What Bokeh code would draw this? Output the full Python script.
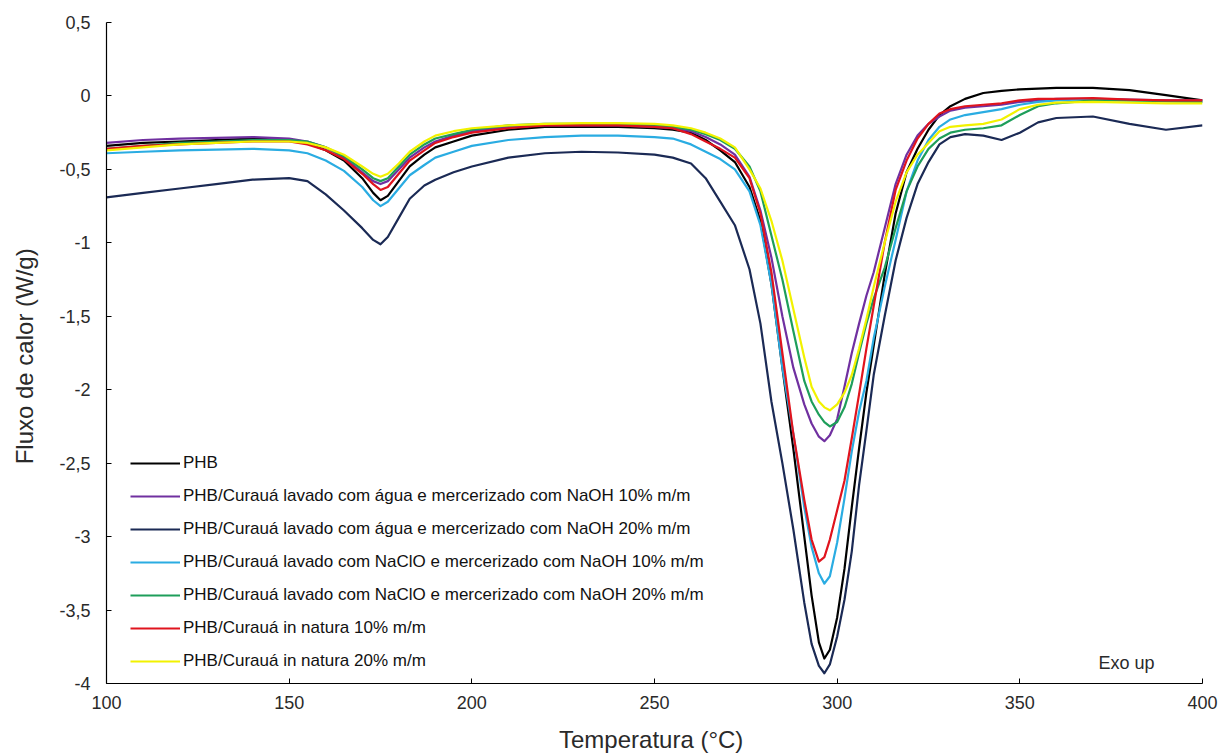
from bokeh.plotting import figure
from bokeh.models import (Range1d, FixedTicker, CustomJSTickFormatter, Legend,
                          LegendItem, Label)
from bokeh.embed import file_html
from bokeh.resources import INLINE

# ---------------- data ----------------
temperatura = [100, 110, 120, 130, 140, 150, 155, 160, 165, 170, 173, 175, 177, 180,
               183, 187, 190, 195, 200, 210, 220, 230, 240, 250, 255, 260, 264, 268,
               272, 276, 279, 282, 285, 288, 291, 293, 295, 296.5, 298, 300, 302, 304,
               306, 308, 310, 313, 316, 319, 322, 325, 328, 331, 335, 340, 345, 350,
               355, 360, 370, 380, 390, 400]

phb = [-0.34, -0.32, -0.31, -0.30, -0.29, -0.30, -0.32, -0.37, -0.44, -0.56, -0.66, -0.71,
       -0.68, -0.58, -0.48, -0.40, -0.35, -0.31, -0.27, -0.23, -0.21, -0.21, -0.21, -0.22,
       -0.23, -0.25, -0.30, -0.37, -0.45, -0.62, -0.85, -1.28, -1.85, -2.40, -3.00, -3.40,
       -3.72, -3.83, -3.77, -3.55, -3.22, -2.80, -2.40, -2.02, -1.70, -1.22, -0.80, -0.52,
       -0.36, -0.23, -0.13, -0.07, -0.02, 0.02, 0.035, 0.045, 0.05, 0.055, 0.055, 0.04,
       0.005, -0.03]

agua_naoh10 = [-0.32, -0.30, -0.29, -0.285, -0.28, -0.29, -0.31, -0.35, -0.42, -0.52, -0.58,
               -0.60, -0.58, -0.50, -0.42, -0.35, -0.31, -0.27, -0.24, -0.21, -0.20, -0.20,
               -0.20, -0.21, -0.22, -0.24, -0.28, -0.33, -0.40, -0.55, -0.78, -1.10, -1.50,
               -1.85, -2.10, -2.23, -2.32, -2.35, -2.31, -2.20, -1.98, -1.75, -1.55, -1.36,
               -1.20, -0.90, -0.60, -0.40, -0.27, -0.19, -0.14, -0.10, -0.08, -0.07, -0.06,
               -0.04, -0.03, -0.02, -0.02, -0.025, -0.03, -0.03]

agua_naoh20 = [-0.69, -0.66, -0.63, -0.60, -0.57, -0.56, -0.58, -0.67, -0.78, -0.90, -0.98,
               -1.01, -0.96, -0.83, -0.70, -0.61, -0.57, -0.52, -0.48, -0.42, -0.39, -0.38,
               -0.385, -0.40, -0.42, -0.46, -0.56, -0.72, -0.88, -1.18, -1.55, -2.08, -2.50,
               -2.95, -3.45, -3.73, -3.88, -3.93, -3.87, -3.68, -3.43, -3.10, -2.65, -2.28,
               -1.90, -1.50, -1.12, -0.83, -0.60, -0.45, -0.33, -0.28, -0.26, -0.27, -0.30,
               -0.25, -0.18, -0.15, -0.14, -0.19, -0.23, -0.20]

naclo_naoh10 = [-0.39, -0.38, -0.37, -0.365, -0.36, -0.37, -0.39, -0.44, -0.51, -0.62, -0.71,
                -0.75, -0.72, -0.63, -0.54, -0.47, -0.42, -0.38, -0.34, -0.30, -0.28, -0.27,
                -0.27, -0.28, -0.29, -0.33, -0.38, -0.43, -0.50, -0.65, -0.88, -1.28, -1.85,
                -2.30, -2.80, -3.07, -3.25, -3.32, -3.27, -3.04, -2.74, -2.42, -2.15, -1.94,
                -1.65, -1.30, -0.98, -0.65, -0.44, -0.30, -0.21, -0.16, -0.13, -0.11, -0.09,
                -0.06, -0.04, -0.03, -0.02, -0.03, -0.035, -0.04]

naclo_naoh20 = [-0.36, -0.34, -0.32, -0.31, -0.30, -0.30, -0.31, -0.35, -0.41, -0.50, -0.56,
                -0.58, -0.56, -0.48, -0.40, -0.33, -0.29, -0.26, -0.23, -0.20, -0.19, -0.19,
                -0.19, -0.20, -0.21, -0.23, -0.26, -0.30, -0.36, -0.48, -0.65, -0.95, -1.25,
                -1.60, -1.94, -2.08, -2.17, -2.22, -2.25, -2.22, -2.12, -1.96, -1.75, -1.55,
                -1.38, -1.17, -0.90, -0.65, -0.48, -0.36, -0.29, -0.25, -0.23, -0.22, -0.20,
                -0.13, -0.07, -0.05, -0.03, -0.03, -0.035, -0.04]

natura10 = [-0.36, -0.34, -0.33, -0.32, -0.31, -0.31, -0.33, -0.37, -0.43, -0.53, -0.60,
            -0.64, -0.62, -0.53, -0.44, -0.37, -0.32, -0.28, -0.25, -0.22, -0.20, -0.20,
            -0.20, -0.21, -0.22, -0.26, -0.31, -0.36, -0.42, -0.56, -0.80, -1.20, -1.75,
            -2.30, -2.75, -3.02, -3.17, -3.14, -3.02, -2.82, -2.62, -2.33, -2.03, -1.72,
            -1.43, -1.00, -0.64, -0.44, -0.29, -0.19, -0.12, -0.09, -0.07, -0.06, -0.05,
            -0.03, -0.02, -0.02, -0.015, -0.025, -0.03, -0.03]

natura20 = [-0.37, -0.35, -0.33, -0.32, -0.31, -0.31, -0.32, -0.35, -0.40, -0.48, -0.53,
            -0.55, -0.53, -0.46, -0.38, -0.31, -0.27, -0.24, -0.22, -0.20, -0.19, -0.185,
            -0.185, -0.19, -0.20, -0.22, -0.25, -0.29, -0.35, -0.50, -0.63, -0.85, -1.12,
            -1.45, -1.78, -1.98, -2.08, -2.12, -2.14, -2.10, -2.02, -1.90, -1.72, -1.52,
            -1.30, -1.00, -0.72, -0.52, -0.40, -0.32, -0.24, -0.21, -0.20, -0.19, -0.16,
            -0.09, -0.06, -0.045, -0.04, -0.045, -0.05, -0.05]

labels = [
    "PHB",
    "PHB/Curauá lavado com água e mercerizado com NaOH 10% m/m",
    "PHB/Curauá lavado com água e mercerizado com NaOH 20% m/m",
    "PHB/Curauá lavado com NaClO e mercerizado com NaOH 10% m/m",
    "PHB/Curauá lavado com NaClO e mercerizado com NaOH 20% m/m",
    "PHB/Curauá in natura 10% m/m",
    "PHB/Curauá in natura 20% m/m",
]
series = [phb, agua_naoh10, agua_naoh20, naclo_naoh10, naclo_naoh20, natura10, natura20]
colors = ["#000000", "#7030A0", "#1B2A55", "#2AACE2", "#1E9E5A", "#E0141E", "#F2F200"]

x_ticks = [100, 150, 200, 250, 300, 350, 400]
y_ticks = [0.5, 0, -0.5, -1, -1.5, -2, -2.5, -3, -3.5, -4]

FONT = "Liberation Sans"

# ---------------- figure ----------------
p = figure(width=1220, height=755, output_backend="svg", toolbar_location=None,
           x_range=Range1d(100, 400), y_range=Range1d(-4, 0.5),
           min_border_left=106, min_border_right=18, min_border_top=22,
           min_border_bottom=72)
p.outline_line_color = None
p.xgrid.visible = False
p.ygrid.visible = False
p.background_fill_color = "white"
p.border_fill_color = "white"

items = []
for ys, lab, col in zip(series, labels, colors):
    r = p.line(temperatura, ys, line_color=col, line_width=2.2, line_join="round")
    items.append(LegendItem(label=lab, renderers=[r]))

for ax in (p.xaxis[0], p.yaxis[0]):
    ax.axis_line_color = "black"
    ax.axis_line_width = 1.2
    ax.major_tick_line_color = "black"
    ax.major_tick_in = 5
    ax.major_tick_out = 0
    ax.minor_tick_line_color = None
    ax.major_label_text_font = FONT
    ax.major_label_text_font_size = "18px"
    ax.major_label_text_color = "#2a2a2a"
    ax.axis_label_text_font = FONT
    ax.axis_label_text_font_style = "normal"
    ax.axis_label_text_color = "#2a2a2a"
    ax.axis_label_text_font_size = "24px"

p.xaxis.ticker = FixedTicker(ticks=x_ticks)
p.yaxis.ticker = FixedTicker(ticks=y_ticks)
p.yaxis.formatter = CustomJSTickFormatter(code="return tick.toString().replace('.', ',');")
p.xaxis.axis_label = "Temperatura  (°C)"
p.yaxis.axis_label = "Fluxo  de calor (W/g)"
p.xaxis.major_label_standoff = 12
p.yaxis.major_label_standoff = 16
p.xaxis.axis_label_standoff = 14
p.yaxis.axis_label_standoff = 18

legend = Legend(items=items, location=(24, 12), orientation="vertical",
                background_fill_alpha=0, border_line_color=None,
                padding=0, margin=0, spacing=13, glyph_width=50, glyph_height=20,
                label_height=20, label_standoff=3,
                label_text_font=FONT, label_text_font_size="17px",
                label_text_color="#111111")
p.add_layout(legend, "center")

p.add_layout(Label(x=371.5, y=-3.86, text="Exo up", text_baseline="middle",
                   text_font=FONT, text_font_size="18px", text_color="#2a2a2a"))

open("out.html", "w").write(file_html(p, INLINE))
